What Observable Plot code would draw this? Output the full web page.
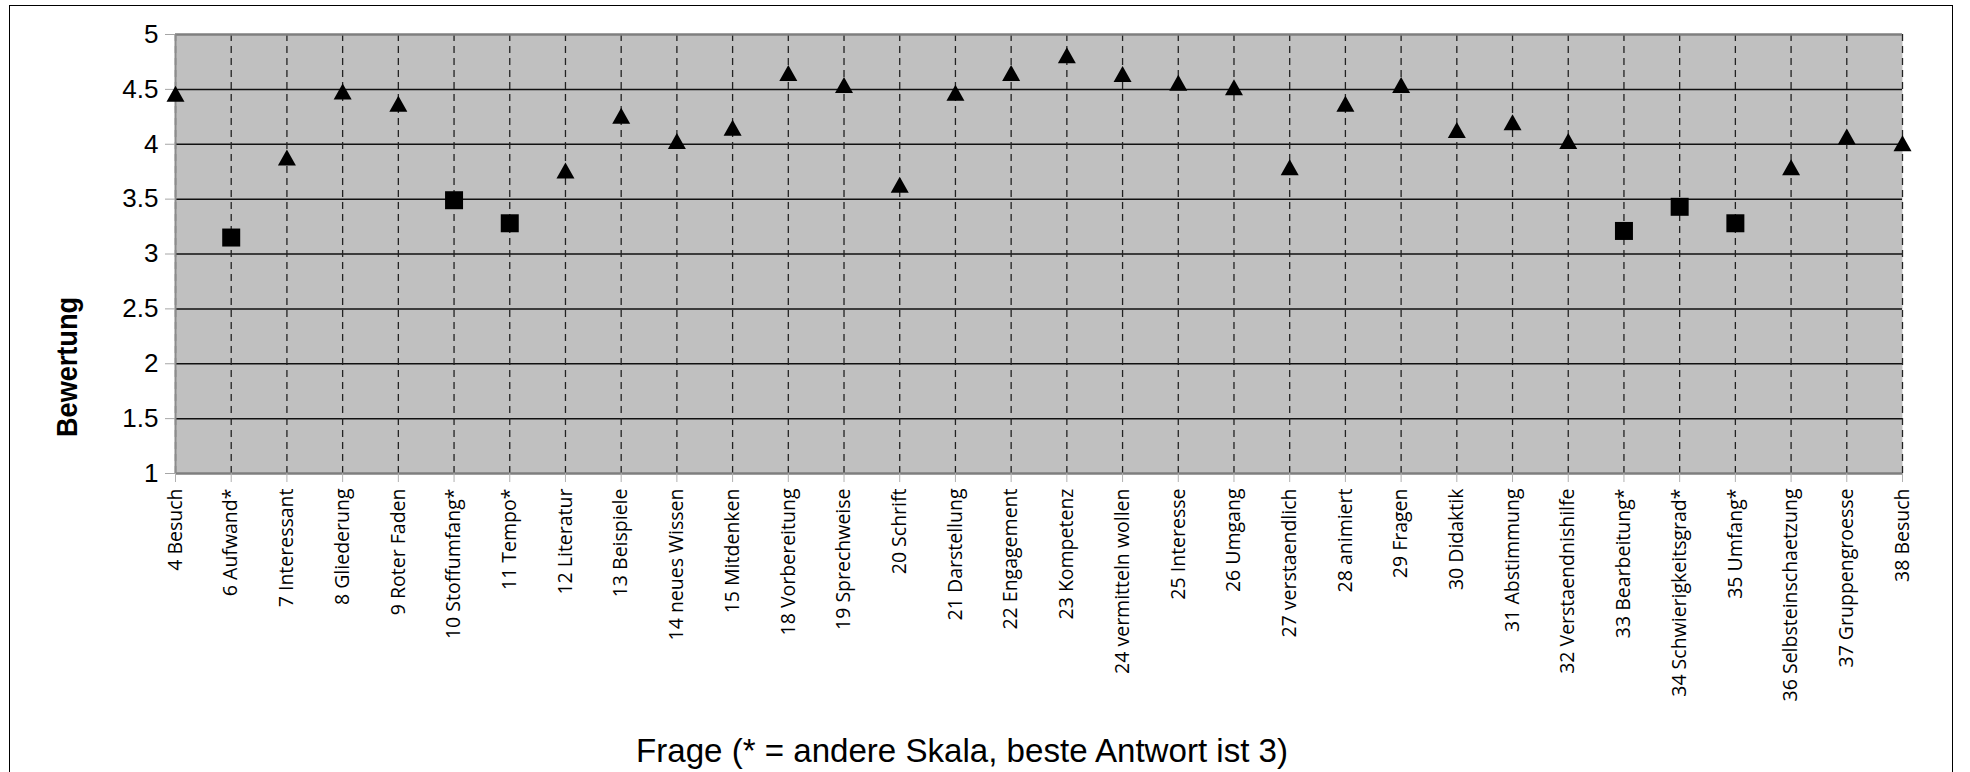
<!DOCTYPE html>
<html><head><meta charset="utf-8">
<script src="https://cdn.jsdelivr.net/npm/d3@7"></script>
<script src="https://cdn.jsdelivr.net/npm/@observablehq/plot@0.6"></script>
<style>
body{margin:0;background:#fff;overflow:hidden}
#wrap{position:relative;width:1970px;height:772px}
#wrap svg{position:absolute;left:0;top:0}
#border{position:absolute;left:9px;top:5px;width:1944px;height:800px;border:1.5px solid #000;box-sizing:border-box;pointer-events:none}
</style></head><body><div id="wrap"><div id="border"></div></div>
<script>
const questions = ["4 Besuch","6 Aufwand*","7 Interessant","8 Gliederung","9 Roter Faden","10 Stoffumfang*","11 Tempo*","12 Literatur","13 Beispiele","14 neues Wissen","15 Mitdenken","18 Vorbereitung","19 Sprechweise","20 Schrift","21 Darstellung","22 Engagement","23 Kompetenz","24 vermitteln wollen","25 Interesse","26 Umgang","27 verstaendlich","28 animiert","29 Fragen","30 Didaktik","31 Abstimmung","32 Verstaendnishilfe","33 Bearbeitung*","34 Schwierigkeitsgrad*","35 Umfang*","36 Selbsteinschaetzung","37 Gruppengroesse","38 Besuch"];
const ratings = [4.46,3.15,3.88,4.48,4.37,3.49,3.28,3.76,4.26,4.03,4.15,4.65,4.54,3.63,4.47,4.65,4.81,4.64,4.56,4.52,3.79,4.37,4.54,4.13,4.20,4.03,3.21,3.43,3.28,3.79,4.07,4.01];
const scaleKind = ["std","alt","std","std","std","alt","alt","std","std","std","std","std","std","std","std","std","std","std","std","std","std","std","std","std","std","std","alt","alt","alt","std","std","std"];
const yTicks = [1,1.5,2,2.5,3,3.5,4,4.5,5];
const yTitle = "Bewertung";
const xTitle = "Frage (* = andere Skala, beste Antwort ist 3)";

const data = questions.map((q,i)=>({q, v:ratings[i], kind:scaleKind[i]}));
const tri = {draw(ctx){ctx.moveTo(0,-8);ctx.lineTo(9,8);ctx.lineTo(-9,8);ctx.closePath();}};
const sq = {draw(ctx){ctx.rect(-9,-9,18,18);}};

const chart = Plot.plot({
  width:1970, height:772,
  marginLeft:175, marginRight:68, marginTop:34, marginBottom:299,
  style:{background:"transparent", fontFamily:"Open Sans", color:"#000", overflow:"visible"},
  x:{type:"point", domain:questions, padding:0, round:false, axis:null},
  y:{domain:[yTicks[0], yTicks[yTicks.length-1]], axis:null},
  marks:[
    Plot.frame({fill:"#c0c0c0", stroke:null}),
    Plot.ruleY(yTicks.slice(1,-1), {stroke:"#111", strokeWidth:1.5}),
    Plot.ruleX(questions, {stroke:"#222", strokeWidth:1.3, strokeDasharray:"7,5"}),
    Plot.ruleY([yTicks[0], yTicks[yTicks.length-1]], {stroke:"#7f7f7f", strokeWidth:2.5}),
    Plot.ruleX([questions[0]], {stroke:"#8c8c8c", strokeWidth:2}),
    Plot.axisY(yTicks, {tickSize:10, tickPadding:7, stroke:"#a6a6a6", fill:"#000", fontSize:26, fontFamily:"Liberation Sans", tickFormat:d=>String(d), label:null}),
    Plot.axisX(questions, {tickSize:9, tickPadding:6, tickRotate:-90, stroke:"#b0b0b0", fill:"#000", fontSize:19.5, fontFamily:"Open Sans", label:null}),
    Plot.dot(data.filter(d=>d.kind==="std"), {x:"q", y:"v", symbol:tri, fill:"#000", stroke:null}),
    Plot.dot(data.filter(d=>d.kind==="alt"), {x:"q", y:"v", symbol:sq, fill:"#000", stroke:null}),
    Plot.text([yTitle], {frameAnchor:"left", textAnchor:"middle", lineAnchor:"middle", dx:-108, dy:113, rotate:-90, fontSize:30, fontWeight:"bold", fontFamily:"Liberation Sans", fill:"#000"}),
    Plot.text([xTitle], {frameAnchor:"bottom", textAnchor:"middle", lineAnchor:"middle", dx:-77, dy:278, fontSize:34, fontFamily:"Liberation Sans", fill:"#000"})
  ]
});
chart.querySelectorAll("text").forEach(t => {
  if (t.textContent === xTitle) { t.setAttribute("textLength", 652); t.setAttribute("lengthAdjust", "spacingAndGlyphs"); }
  if (t.textContent === yTitle) { t.setAttribute("textLength", 140); t.setAttribute("lengthAdjust", "spacingAndGlyphs"); }
});
document.getElementById("wrap").prepend(chart);
</script></body></html>
